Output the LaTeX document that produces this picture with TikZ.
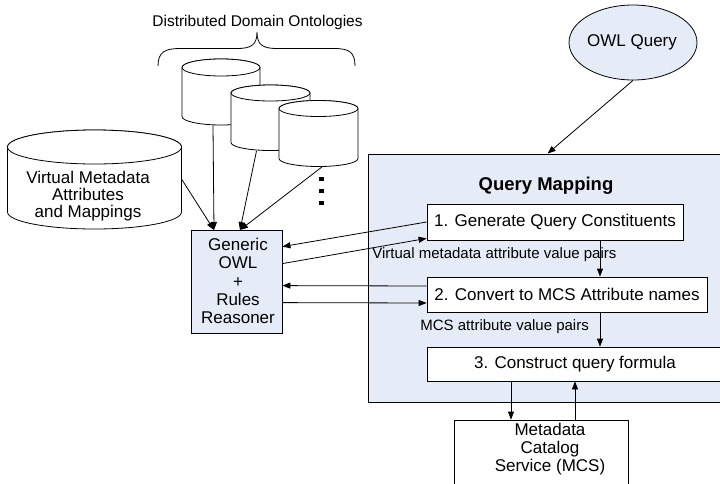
\documentclass[tikz,border=0pt]{standalone}
\usepackage{fontspec}
\setmainfont{Liberation Sans}
\usetikzlibrary{arrows.meta,fit,calc,shapes.geometric}
\definecolor{qblue}{RGB}{230,236,247}
% #1 name, #2 cx, #3 y of top ellipse centre, #4 y of bottom ellipse centre, #5 rx, #6 ry
\newcommand\mycyl[6]{%
  \filldraw[cylstyle] ({#2-#5},#3) -- ({#2-#5},#4)
     arc[start angle=180,end angle=360,x radius=#5pt,y radius=#6pt]
     -- ({#2+#5},#3)
     arc[start angle=0,end angle=180,x radius=#5pt,y radius=#6pt] -- cycle;
  \draw[cylstyle] (#2,#3) ellipse[x radius=#5pt,y radius=#6pt];
  \path ({#2-#5},{#3+#6}) coordinate (#1-nw) ({#2+#5},{#4-#6}) coordinate (#1-se);
  \node[fit=(#1-nw)(#1-se),inner sep=0pt] (#1) {};
}
\begin{document}
\begin{tikzpicture}[x=1pt,y=1pt,line width=0.8pt,
  >={Triangle[length=8pt,width=6pt]},
  cylstyle/.style={draw=black,fill=white,line width=0.8pt},
  box/.style={draw,fill=white,inner sep=0pt},
  txt/.style={font=\fontsize{17}{18.3}\selectfont,align=center,inner sep=0pt},
  lbl/.style={font=\fontsize{15}{17}\selectfont,anchor=west,inner sep=0pt},
  dotsq/.style={fill=black,minimum width=5pt,minimum height=4pt,inner sep=0pt}]
\useasboundingbox (0,0) rectangle (720,-483);
\clip (0,0) rectangle (720,-483);

% title and brace
\node[font=\fontsize{15.5}{18}\selectfont] (title) at (257.5,-22) {Distributed Domain Ontologies};
\draw[line width=0.8pt] (158,-66) .. controls (158,-52) and (165,-48.5) .. (180,-48.5)
   -- (237,-48.5) .. controls (251,-48.5) and (257,-45) .. (257,-32)
   .. controls (257,-45) and (263,-48.5) .. (277,-48.5)
   -- (334,-48.5) .. controls (349,-48.5) and (355,-52) .. (355,-66);

% cylinders
\mycyl{c1}{221}{-67.5}{-116.5}{39}{8.5}
\mycyl{c2}{270.5}{-93}{-142.5}{39.5}{8}
\mycyl{c3}{318.5}{-108.5}{-158.5}{39.5}{8}
\mycyl{vm}{94.5}{-147}{-212}{87}{17}
\node[txt,font=\fontsize{17}{17.2}\selectfont] (vmt) at (88,-196) {Virtual Metadata\\Attributes\\and Mappings};

% dots
\node[dotsq] (d1) at (321,-179) {};
\node[dotsq] (d2) at (321,-191) {};
\node[dotsq] (d3) at (321,-203) {};

% reasoner
\node[draw,fill=qblue,minimum width=91pt,minimum height=103pt,inner sep=0pt] (reas) at (236.5,-281.5) {};
\node[txt] (reast) at (238,-281) {Generic\\OWL\\+\\Rules\\Reasoner};

% OWL query
\node[draw,fill=qblue,ellipse,minimum width=128pt,minimum height=75pt,inner sep=0pt] (owl) at (633,-42.5) {};
\node[txt] (owlt) at (632,-42) {OWL Query};

% query mapping panel
\node[draw,fill=qblue,minimum width=380pt,minimum height=248pt,inner sep=0pt] (panel) at (558,-278) {};
\node[font=\bfseries\fontsize{18.5}{20}\selectfont,inner sep=0pt] (qm) at (546,-186) {Query Mapping};

\node[box,txt,minimum width=256pt,minimum height=36pt] (b1) at (555,-222) {1. Generate Query Constituents};
\node[box,txt,minimum width=280pt,minimum height=35pt] (b2) at (567,-294.5) {2. Convert to MCS Attribute names};
\node[box,txt,minimum width=296pt,minimum height=34pt] (b3) at (575,-364) {3. Construct query formula};

\node[lbl] (l1) at (372,-255) {Virtual metadata attribute value pairs};
\node[lbl] (l2) at (420,-327) {MCS attribute value pairs};

% MCS
\node[box,minimum width=174pt,minimum height=80pt] (mcs) at (541,-460) {};
\node[txt,font=\fontsize{17}{18}\selectfont] (mcst) at (550,-449) {Metadata\\Catalog\\Service (MCS)};

% connectors
\coordinate (ra) at (214,-230);
\coordinate (rb) at (240,-230);
\draw[->] ($(vm.north east)+(0,-50)$) -- (ra);
\draw[->] ($(c1.south)+(-8,0)$) -- (ra);
\draw[->] ($(c2.south)+(-14,0)$) -- (rb);
\draw[->] ($(c3.south)+(3.5,0)$) -- (rb);

\draw[->] (owl.south) -- ($(panel.north west)+(180,0)$);

\draw[->] (b1.west) -- ($(reas.north east)+(0,-17)$);
\draw[->] ($(reas.north east)+(0,-34)$) -- ($(b1.south west)+(0,2)$);
\draw[->] ($(b2.west)+(0,8.5)$) -- ($(reas.north east)+(0,-56)$);
\draw[->] ($(reas.north east)+(0,-73)$) -- ($(b2.west)+(0,-8.5)$);

\draw[->] (b1.south -| 600,0) -- (b2.north -| 600,0);
\draw[->] (b2.south -| 600,0) -- (b3.north -| 600,0);
\draw[->] (b3.south -| 511,0) -- (mcs.north -| 511,0);
\draw[->] (mcs.north -| 575,0) -- (b3.south -| 575,0);
\end{tikzpicture}
\end{document}
